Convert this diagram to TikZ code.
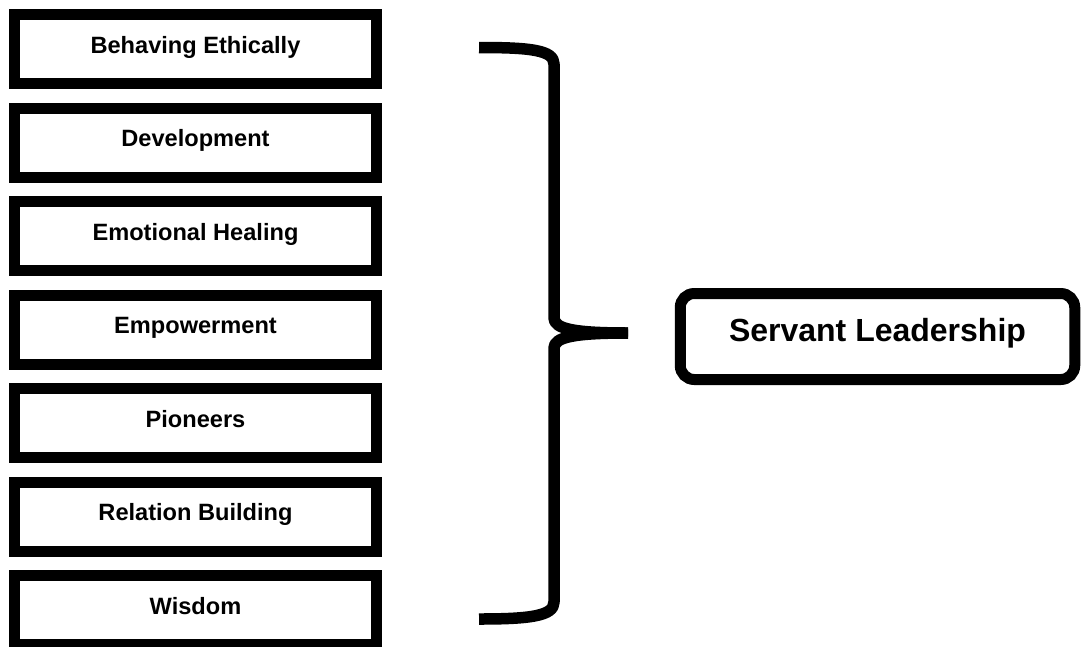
\documentclass[tikz,border=0pt]{standalone}
\usepackage{fontspec}
\setmainfont{Liberation Sans}
\begin{document}
\begin{tikzpicture}[x=1pt,y=-1pt,
  itembox/.style={draw=black, line width=11pt, rectangle, inner sep=0pt,
    minimum width=362pt, minimum height=69pt,
    font=\bfseries\fontsize{23.6}{28}\selectfont, text height=17pt, text depth=9pt},
  mainbox/.style={draw=black, line width=11pt, rectangle, rounded corners=14pt, inner sep=0pt,
    minimum width=394.5pt, minimum height=86pt,
    font=\bfseries\fontsize{32}{38}\selectfont, text height=23pt, text depth=13pt},
  bracestroke/.style={draw=black, line width=11.5pt, line cap=butt, line join=round}
]
\useasboundingbox (0,0) rectangle (1081,646);
\node[itembox] (b1) at (195.5,49) {Behaving Ethically};
\node[itembox] (b2) at (195.5,142.5) {Development};
\node[itembox] (b3) at (195.5,236) {Emotional Healing};
\node[itembox] (b4) at (195.5,329.5) {Empowerment};
\node[itembox] (b5) at (195.5,423) {Pioneers};
\node[itembox] (b6) at (195.5,516.5) {Relation Building};
\node[itembox] (b7) at (195.5,610) {Wisdom};
\node[mainbox] (sl) at (877.5,336.5) {Servant Leadership};
\coordinate (top) at (479,47.5);
\coordinate (bot) at (479,619);
\coordinate (tip) at (628,333);
\draw[bracestroke] (top) .. controls (530,47.5) and (554,50) .. (554,64)
  -- (554,318) .. controls (554,329) and (575,333) .. (tip);
\draw[bracestroke] (tip) .. controls (575,333) and (554,337) .. (554,348)
  -- (554,602) .. controls (554,616) and (530,619) .. (bot);
\end{tikzpicture}
\end{document}
